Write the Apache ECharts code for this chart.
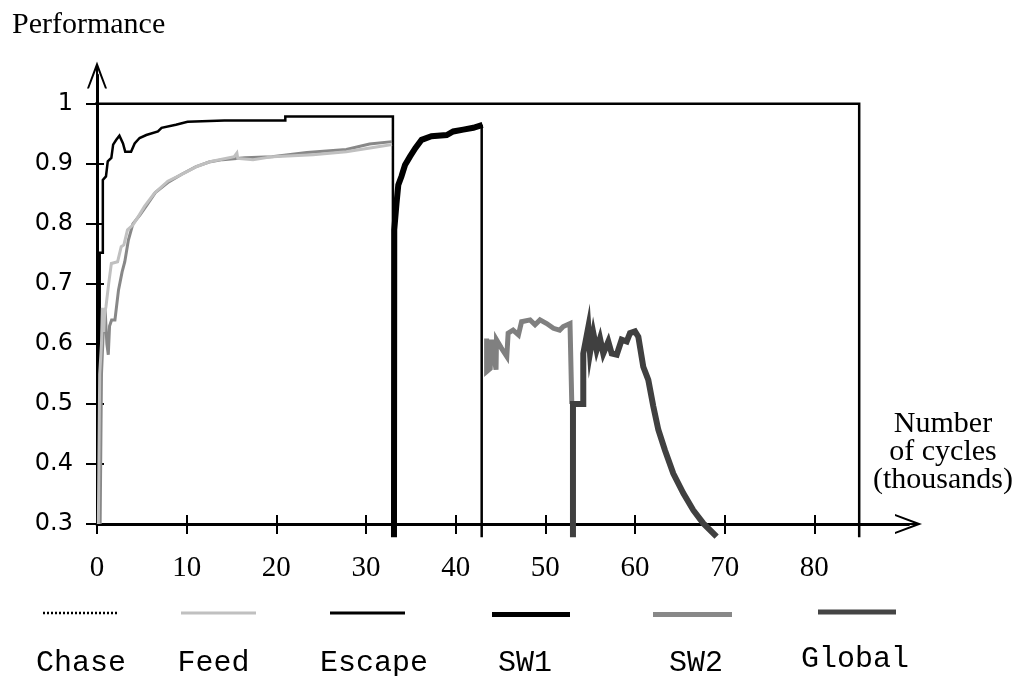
<!DOCTYPE html>
<html>
<head>
<meta charset="utf-8">
<script src="https://cdn.jsdelivr.net/npm/echarts@6/dist/echarts.min.js"></script>
<style>
html,body{margin:0;padding:0;background:#fff;}
#chart{width:1019px;height:676px;}
</style>
</head>
<body>
<div id="chart"></div>
<script>
// ---- data (x in thousands of cycles, y = performance) ----
const xTicks = [0, 10, 20, 30, 40, 50, 60, 70, 80];
const yTicks = [0.3, 0.4, 0.5, 0.6, 0.7, 0.8, 0.9, 1];
const legendNames = ['Chase', 'Feed', 'Escape', 'SW1', 'SW2', 'Global'];

const chaseData = [[0.35,0.3],[0.5,0.55],[0.7,0.62],[0.9,0.659],[1.1,0.6],[1.26,0.582],[1.4,0.63],[1.63,0.64],[2.0,0.64],[2.4,0.69],[2.8,0.72],[3.1,0.737],[3.5,0.773],[4.0,0.8],[4.8,0.815],[5.5,0.83],[6.5,0.852],[8.0,0.87],[9.5,0.883],[11.0,0.895],[12.5,0.903],[14.0,0.907],[16.5,0.91],[19.5,0.912],[23.4,0.919],[27.8,0.924],[30.4,0.933],[32.9,0.937]];

const feedData = [[0.15,0.3],[0.3,0.55],[0.5,0.6],[0.6,0.66],[0.75,0.62],[0.85,0.65],[1.0,0.662],[1.3,0.7],[1.6,0.734],[2.3,0.737],[2.7,0.762],[3.0,0.765],[3.4,0.79],[4.0,0.798],[4.6,0.812],[5.3,0.829],[6.4,0.851],[7.9,0.871],[9.4,0.882],[11.2,0.896],[12.7,0.904],[15.3,0.912],[15.6,0.918],[15.7,0.909],[17.4,0.907],[19.6,0.912],[24.1,0.915],[27.8,0.92],[31.5,0.929],[32.9,0.932]];

const escapeData = [[0.3,0.3],[0.3,0.752],[0.65,0.752],[0.65,0.873],[1.0,0.879],[1.2,0.904],[1.6,0.91],[1.8,0.932],[2.15,0.94],[2.5,0.947],[2.9,0.934],[3.15,0.92],[3.8,0.92],[4.2,0.934],[4.75,0.943],[5.5,0.948],[6.8,0.954],[7.2,0.96],[8.8,0.965],[10.1,0.97],[14.2,0.972],[21.0,0.972],[21.0,0.979],[33.0,0.979],[33.0,0.3]];

const sw1Data = [[33.12,0.278],[33.15,0.79],[33.4,0.834],[33.6,0.865],[33.95,0.879],[34.35,0.898],[34.9,0.912],[35.5,0.926],[36.2,0.94],[37.3,0.946],[39.0,0.948],[39.73,0.954],[40.85,0.957],[41.97,0.96],[43.0,0.965]];

const dividerData = [[42.9,0.965],[42.9,0.278]];

const sw2Data = [[43.45,0.609],[43.45,0.554],[43.85,0.559],[44.0,0.607],[44.5,0.557],[44.55,0.607],[45.1,0.593],[45.7,0.579],[45.85,0.618],[46.4,0.623],[47.0,0.615],[47.35,0.637],[48.3,0.64],[48.85,0.632],[49.4,0.64],[50.15,0.634],[50.9,0.626],[51.6,0.623],[52.0,0.629],[52.75,0.634],[52.95,0.634],[52.95,0.5]];

const globalData = [[53.08,0.278],[53.08,0.5],[54.23,0.5],[54.23,0.584],[54.79,0.628],[54.98,0.585],[55.35,0.618],[55.72,0.59],[56.1,0.609],[56.46,0.584],[57.02,0.604],[57.4,0.584],[57.96,0.582],[58.51,0.607],[59.07,0.604],[59.44,0.618],[60.0,0.621],[60.37,0.612],[60.92,0.562],[61.48,0.54],[62.04,0.496],[62.6,0.457],[63.34,0.423],[64.27,0.384],[65.39,0.351],[66.5,0.323],[67.62,0.301],[69.1,0.279]];

const frameData = [[-1.2,1],[85.0,1],[85.0,0.278]];

// ---- chart ----
const X_MAX = 90.5, Y_MIN = 0.3, Y_MAX = 1.048;
const arrowPath = 'path://M10,0 L20,27 L18,27 L10,6 L2,27 L0,27 Z M9,5 L11,5 L11,27 L9,27 Z';
const serif = '"Liberation Serif","Times New Roman",serif';
const mono = '"Courier New","Liberation Mono",monospace';

const chart = echarts.init(document.getElementById('chart'), null, {renderer: 'canvas'});

function lineSeries(name, data, color, width, extra) {
  return Object.assign({
    name: name, type: 'line', data: data, symbol: 'none', clip: false,
    xAxisIndex: 0, yAxisIndex: 0, animation: false, silent: true,
    lineStyle: {color: color, width: width, join: 'miter'}, z: 3
  }, extra || {});
}

const legendStyles = [
  {color: '#000', width: 2.5, type: [2, 2]},
  {color: '#c0c0c0', width: 3, type: 'solid'},
  {color: '#000', width: 3, type: 'solid'},
  {color: '#000', width: 5, type: 'solid'},
  {color: '#888', width: 5, type: 'solid'},
  {color: '#444', width: 5, type: 'solid'}
];
const legendLineX = [[43,118],[181,256],[330,405],[492,570],[653,732],[818,896]];
const legendLineY = [613, 613, 613, 614.5, 614.5, 612];
const legendTextX = [81, 213.5, 374, 525, 696, 855];
const legendTextY = [663, 663, 663, 663, 663, 659];

const graphics = [
  {type: 'text', left: 12, top: 10, style: {text: 'Performance', font: '30px ' + serif, fill: '#000'}},
  {type: 'text', x: 943, y: 452, style: {text: 'Number\nof cycles\n(thousands)', font: '30px ' + serif, lineHeight: 28, fill: '#000', align: 'center', verticalAlign: 'middle'}}
];
legendNames.forEach(function (n, i) {
  const s = legendStyles[i];
  graphics.push({type: 'line', shape: {x1: legendLineX[i][0], y1: legendLineY[i], x2: legendLineX[i][1], y2: legendLineY[i]},
    style: {stroke: s.color, lineWidth: s.width, lineDash: s.type === 'solid' ? null : s.type}});
  graphics.push({type: 'text', x: legendTextX[i], y: legendTextY[i],
    style: {text: n, font: '30px ' + mono, fill: '#000', align: 'center', verticalAlign: 'middle'}});
});

chart.setOption({
  animation: false,
  backgroundColor: '#fff',
  grid: {left: 97, top: 75, right: 1019 - 97 - X_MAX * 8.967, bottom: 152, containLabel: false},
  xAxis: [{
    type: 'value', min: 0, max: X_MAX, position: 'bottom',
    axisLine: {show: true, onZero: false, lineStyle: {color: '#000', width: 3}, symbol: ['none', arrowPath], symbolSize: [20, 27]},
    axisTick: {show: true, inside: false, length: 10, lineStyle: {color: '#000', width: 2}, customValues: xTicks},
    axisLabel: {show: true, margin: 30, color: '#000', fontFamily: serif, fontSize: 29, customValues: xTicks},
    splitLine: {show: false}
  }, {
    type: 'value', min: 0, max: X_MAX, position: 'bottom',
    axisLine: {show: false, onZero: false},
    axisTick: {show: true, inside: true, length: 9, lineStyle: {color: '#000', width: 2}, customValues: xTicks},
    axisLabel: {show: false},
    splitLine: {show: false}
  }],
  yAxis: [{
    type: 'value', min: Y_MIN, max: Y_MAX, position: 'left',
    axisLine: {show: true, onZero: false, lineStyle: {color: '#000', width: 3}, symbol: ['none', arrowPath], symbolSize: [20, 27]},
    axisTick: {show: true, inside: false, length: 11, lineStyle: {color: '#000', width: 2}, customValues: yTicks},
    axisLabel: {show: true, margin: 24, color: '#000', fontFamily: '"DejaVu Sans",Arial,sans-serif', fontSize: 24, customValues: yTicks,
      formatter: function (v) { return String(Math.round(v * 10) / 10); }},
    splitLine: {show: false}
  }, {
    type: 'value', min: Y_MIN, max: Y_MAX, position: 'left',
    axisLine: {show: false, onZero: false},
    axisTick: {show: true, inside: true, length: 7, lineStyle: {color: '#000', width: 2}, customValues: yTicks},
    axisLabel: {show: false},
    splitLine: {show: false}
  }],
  graphic: graphics,
  series: [
    lineSeries('frame', frameData, '#000', 2.5, {z: 2}),
    lineSeries('Escape', escapeData, '#000', 2.5),
    lineSeries('Chase', chaseData, '#888', 3),
    lineSeries('Feed', feedData, '#c0c0c0', 3),
    lineSeries('SW1', sw1Data, '#000', 6, {z: 4}),
    lineSeries('divider', dividerData, '#000', 2.5),
    lineSeries('SW2', sw2Data, '#808080', 5),
    lineSeries('Global', globalData, '#404040', 6, {z: 4})
  ]
});
</script>
</body>
</html>
